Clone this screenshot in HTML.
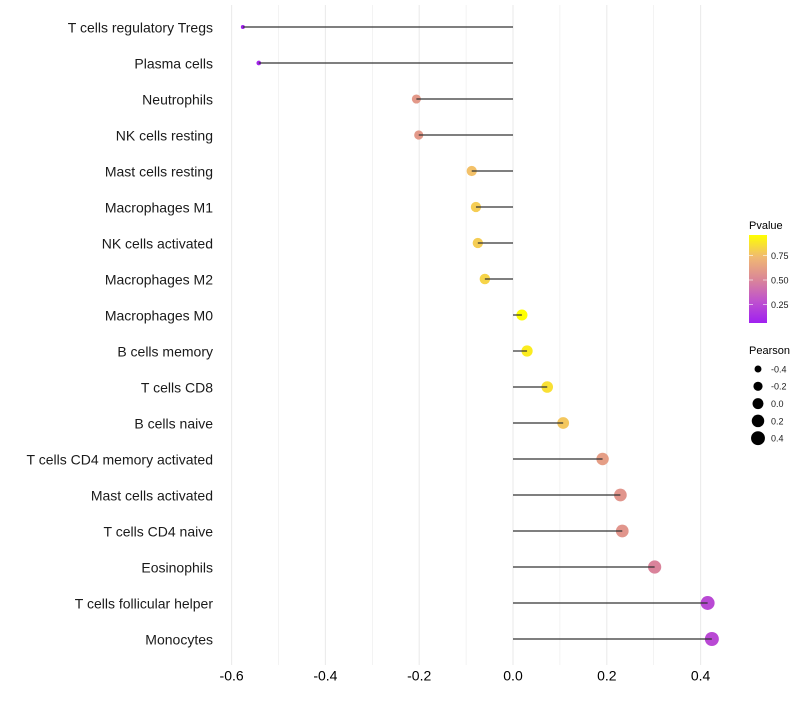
<!DOCTYPE html>
<html><head><meta charset="utf-8"><style>
body{margin:0;background:#fff;}
svg text{font-family:"Liberation Sans",sans-serif;}
</style></head><body>
<svg id="chart" width="800" height="700"></svg>
<script>
const categories=["T cells regulatory  Tregs","Plasma cells","Neutrophils","NK cells resting","Mast cells resting","Macrophages M1","NK cells activated","Macrophages M2","Macrophages M0","B cells memory","T cells CD8","B cells naive","T cells CD4 memory activated","Mast cells activated","T cells CD4 naive","Eosinophils","T cells follicular helper","Monocytes"];
const pearson=[-0.576,-0.542,-0.206,-0.201,-0.088,-0.079,-0.075,-0.060,0.019,0.030,0.073,0.107,0.191,0.229,0.233,0.302,0.415,0.424];
const pvalue=[0.03,0.06,0.58,0.58,0.76,0.80,0.80,0.82,0.96,0.90,0.86,0.78,0.60,0.56,0.56,0.48,0.22,0.22];
const xTicks=[-0.6,-0.4,-0.2,0.0,0.2,0.4];
const xTickLabels=["-0.6","-0.4","-0.2","0.0","0.2","0.4"];
const pTicks=[0.25,0.5,0.75];
const pTickLabels=["0.25","0.50","0.75"];
const sizeBreaks=[-0.4,-0.2,0.0,0.2,0.4];
const sizeLabels=["-0.4","-0.2","0.0","0.2","0.4"];

const NS="http://www.w3.org/2000/svg";
const svg=document.getElementById('chart');
function mk(t,a,p){const e=document.createElementNS(NS,t);for(const k in a)e.setAttribute(k,a[k]);(p||svg).appendChild(e);return e;}
const x=v=>513+v*469;
const y=i=>27+i*36;
const r=v=>Math.sqrt(Math.max(1,30+45*v));
function lerp(a,b,t){return a.map((c,i)=>Math.round(c+(b[i]-c)*t));}
const stops=[[0.03,[160,32,240]],[0.3,[196,90,200]],[0.5,[220,136,150]],[0.75,[242,190,110]],[0.96,[255,255,0]]];
function col(p){p=Math.min(0.96,Math.max(0.03,p));for(let k=0;k<stops.length-1;k++){const [a,ca]=stops[k],[b,cb]=stops[k+1];if(p<=b)return `rgb(${lerp(ca,cb,(p-a)/(b-a))})`;}return 'rgb(255,255,0)';}
const py=p=>329-p*98;

for(let v=-0.6;v<=0.45;v+=0.1){
  const g=mk('line',{x1:x(v),x2:x(v),y1:5,y2:665,stroke:'#ebebeb','stroke-width':Math.abs(Math.round(v*10))%2===0?1.1:0.6});
  
  
}
xTicks.forEach((v,i)=>{
  const t=mk('text',{x:x(v),y:677,'font-size':14,'text-anchor':'middle',fill:'#000','dominant-baseline':'middle'});
  t.textContent=xTickLabels[i];
  
  
});
categories.forEach((c,i)=>{
  const t=mk('text',{x:213,y:y(i)+2,'font-size':14,'text-anchor':'end',fill:'#1a1a1a','dominant-baseline':'middle'});
  t.textContent=c;
  
  
});
categories.forEach((c,i)=>{
  const d=mk('circle',{cx:x(pearson[i]),cy:y(i),r:r(pearson[i]),fill:col(pvalue[i])});
  
  
});
categories.forEach((c,i)=>{
  const l=mk('line',{x1:x(0),x2:x(pearson[i]),y1:y(i),y2:y(i),stroke:'#333','stroke-width':1.2});
  
  
});
const defs=mk('defs',{});
const lg=mk('linearGradient',{id:'pg',x1:0,y1:1,x2:0,y2:0},defs);
[0,0.25,0.5,0.75,1].forEach(s=>mk('stop',{offset:s,'stop-color':col(0.03+s*0.93)},lg));
let tt=mk('text',{x:749,y:229,'font-size':11,fill:'#000'});tt.textContent='Pvalue';


const bar=mk('rect',{x:749,y:235,width:18,height:88,fill:'url(#pg)'});


pTicks.forEach((p,i)=>{
  mk('line',{x1:749,x2:753,y1:py(p),y2:py(p),stroke:'#fff','stroke-opacity':0.6});
  mk('line',{x1:763,x2:767,y1:py(p),y2:py(p),stroke:'#fff','stroke-opacity':0.6});
  const t=mk('text',{x:771,y:py(p)+1,'font-size':9,fill:'#1a1a1a','dominant-baseline':'middle'});
  t.textContent=pTickLabels[i];
  
  
});
tt=mk('text',{x:749,y:354,'font-size':11,fill:'#000'});tt.textContent='Pearson';


sizeBreaks.forEach((v,i)=>{
  const cy=369+i*17.3;
  const c=mk('circle',{cx:758,cy:cy,r:r(v),fill:'#000'});
  
  
  const t=mk('text',{x:771,y:cy+1,'font-size':9,fill:'#1a1a1a','dominant-baseline':'middle'});
  t.textContent=sizeLabels[i];
  
  
});
</script>
</body></html>
